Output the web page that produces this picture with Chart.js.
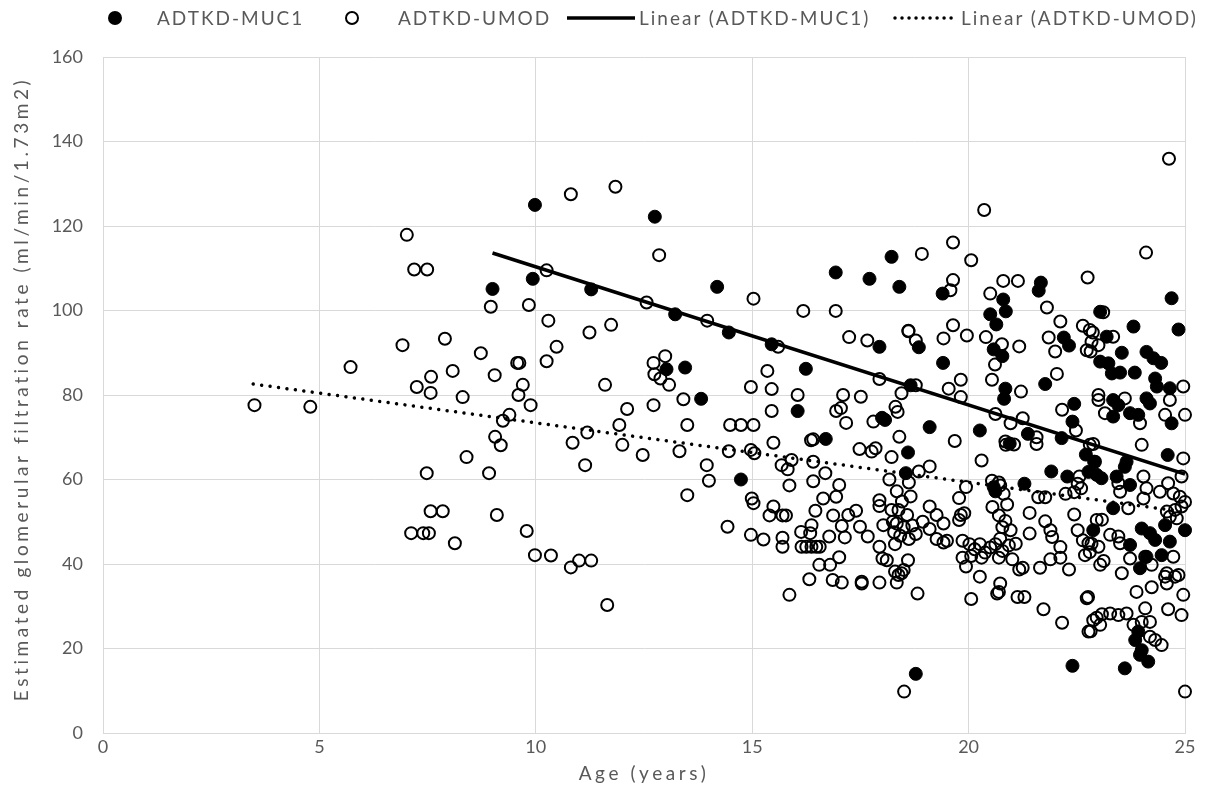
<!DOCTYPE html>
<html>
<head>
<meta charset="utf-8">
<title>eGFR by age, ADTKD-MUC1 vs ADTKD-UMOD</title>
<script src="https://cdn.jsdelivr.net/npm/chart.js@4.4.1/dist/chart.umd.min.js"></script>
<style>
  body { margin: 0; background: #fff; }
  #wrap { position: relative; width: 1216px; height: 802px; }
  #legend { position: absolute; left: 0; top: 0; width: 1216px; height: 40px; color: #595959;
            font-family: Lato, sans-serif; font-size: 19px; letter-spacing: 2px; }
  #legend .txt { position: absolute; top: 7px; line-height: 22px; white-space: nowrap; }
  #legend svg { position: absolute; }
</style>
</head>
<body>
<div id="wrap">
  <canvas id="chart" width="1216" height="802"></canvas>
  <div id="legend">
    <svg style="left:107px;top:10px" width="16" height="16"><circle cx="8" cy="8" r="7" fill="#000"/></svg>
    <span class="txt" style="left:157px">ADTKD-MUC1</span>
    <svg style="left:344px;top:10px" width="16" height="16"><circle cx="8" cy="8" r="6" fill="none" stroke="#000" stroke-width="2"/></svg>
    <span class="txt" style="left:398px">ADTKD-UMOD</span>
    <svg style="left:567px;top:10px" width="68" height="16"><line x1="0" y1="8" x2="68" y2="8" stroke="#000" stroke-width="3.5"/></svg>
    <span class="txt" style="left:639px">Linear (ADTKD-MUC1)</span>
    <svg style="left:893px;top:10px" width="62" height="16"><line x1="2" y1="8" x2="60" y2="8" stroke="#000" stroke-width="3.5" stroke-linecap="round" stroke-dasharray="0.01 7"/></svg>
    <span class="txt" style="left:961px">Linear (ADTKD-UMOD)</span>
  </div>
</div>
<script>
// age (years), eGFR (ml/min/1.73m2)
const muc1Points = [
  [9.0,105.1],[9.93,107.5],[9.98,125.0],[11.28,105.0],[12.75,122.2],[13.22,99.1],[14.19,105.6],[14.46,94.8],
  [13.02,86.1],[13.45,86.5],[13.82,79.1],[14.74,60.0],
  [15.45,92.0],[16.24,86.2],[16.05,76.2],[16.7,69.6],[16.93,109.0],[17.71,107.5],[18.22,112.7],[18.4,105.6],
  [17.94,91.4],[18.0,74.6],[18.07,74.1],[18.6,66.4],[18.55,61.5],
  [19.4,104.0],[20.8,102.6],[20.5,99.1],[20.64,96.7],[20.86,99.8],[18.85,91.3],[19.41,87.6],[20.58,90.8],
  [20.78,89.2],[18.66,82.3],[20.85,81.5],[20.82,79.1],[19.1,72.4],[20.26,71.6],[20.58,58.2],[20.62,57.2],[18.78,14.0],
  [21.67,106.6],[21.62,104.7],[22.2,93.6],[22.32,91.7],[21.77,82.6],[22.44,77.9],[22.4,73.7],[21.37,70.8],
  [20.95,68.5],[22.15,69.8],[22.71,65.9],[22.9,64.2],[21.91,61.9],[22.28,60.7],[21.29,59.0],[22.4,15.9],
  [24.69,102.9],[23.04,99.7],[23.81,96.2],[24.85,95.5],[23.19,93.8],[23.54,90.0],[24.11,90.2],[24.27,88.7],
  [24.45,87.6],[23.04,87.9],[23.23,87.5],[23.31,85.1],[23.5,85.3],[23.84,85.3],[24.31,83.9],[24.35,82.0],
  [24.65,81.6],[24.11,79.2],[24.19,78.0],[23.34,78.8],[23.46,77.6],[23.34,74.9],[23.73,75.7],[23.92,75.3],[24.69,73.3],
  [24.6,65.8],[23.65,64.2],[23.61,63.0],[22.77,61.8],[22.96,61.1],[23.07,60.3],[23.42,60.7],[23.73,58.7],
  [23.34,53.2],[22.88,48.0],[24.0,48.4],[24.19,47.3],[24.31,45.7],[24.54,49.2],[25.0,48.0],[24.65,45.3],
  [23.73,44.5],[24.11,41.7],[23.96,39.0],[24.46,42.1],
  [23.92,24.0],[23.85,22.0],[24.0,19.6],[23.96,18.5],[24.15,16.9],[23.61,15.3]
];

const umodPoints = [
  [3.5,77.6],[4.79,77.2],[5.72,86.6],[6.92,91.8],[7.02,117.9],[7.19,109.7],[7.49,109.7],[7.9,93.3],
  [8.73,89.9],[8.96,100.9],[9.84,101.3],[10.25,109.5],[10.29,97.6],[9.57,87.6],[9.62,87.6],[10.25,88.0],
  [7.58,84.3],[8.08,85.7],[9.05,84.7],[7.25,81.9],[7.57,80.5],[8.31,79.5],[9.7,82.4],[9.6,80.0],
  [9.88,77.6],[9.39,75.3],[9.24,73.9],[9.06,70.1],[9.19,68.1],[8.4,65.3],[7.48,61.5],[8.92,61.5],
  [7.57,52.5],[7.85,52.5],[9.1,51.6],[7.12,47.3],[7.4,47.3],[7.53,47.3],[8.13,44.9],[9.79,47.8],[9.98,42.1],[10.35,42.0],
  [10.81,127.5],[11.84,129.3],[12.85,113.1],[12.56,101.9],[13.96,97.6],[15.03,102.8],[11.24,94.8],[11.74,96.6],
  [10.48,91.4],[12.72,87.6],[12.99,89.2],[12.74,84.9],[12.88,83.9],[13.08,82.4],[11.6,82.4],[14.97,81.9],
  [13.41,79.0],[12.72,77.6],[12.11,76.7],[11.93,72.9],[11.19,71.1],[10.85,68.7],[12.0,68.2],[12.47,65.8],
  [13.32,66.7],[13.5,72.9],[11.14,63.4],[14.49,72.9],[14.74,72.9],[15.03,72.9],[14.46,66.7],[14.97,67.0],
  [13.95,63.4],[14.0,59.7],[13.5,56.3],[14.99,55.5],[15.03,54.4],[14.43,48.8],[14.97,46.9],[10.81,39.2],
  [11.0,40.8],[11.28,40.8],[11.65,30.3],
  [16.18,99.9],[16.93,99.9],[17.24,93.7],[17.66,92.9],[18.61,95.2],[15.6,91.4],[15.35,85.7],[15.45,81.4],
  [16.05,80.0],[17.1,80.0],[17.51,79.6],[17.94,83.8],[18.45,80.4],[15.45,76.2],[16.94,76.2],[17.05,76.9],
  [17.17,73.4],[17.8,73.7],[18.31,77.2],[18.36,76.0],[18.4,70.1],[15.05,66.2],[15.49,68.7],[15.68,63.4],
  [15.82,62.4],[15.91,64.6],[15.86,58.6],[16.36,69.3],[16.41,69.5],[16.41,64.2],[16.41,59.6],[16.69,61.5],
  [17.48,67.2],[17.76,66.6],[17.85,67.4],[18.22,65.3],[18.17,60.0],[17.01,58.7],[16.94,55.9],[16.64,55.5],
  [15.49,53.6],[15.4,51.5],[15.7,51.5],[15.78,51.5],[16.46,52.6],[16.87,51.5],[17.22,51.6],[17.4,52.6],
  [17.07,49.0],[17.49,48.8],[17.67,46.5],[17.94,55.1],[17.94,53.7],[18.03,49.2],[15.26,45.8],[15.7,46.2],
  [15.7,44.1],[16.13,47.6],[16.34,47.3],[16.37,49.2],[16.14,44.1],[16.25,44.1],[16.37,44.1],[16.48,44.1],
  [16.56,44.1],[16.78,46.5],[17.14,46.3],[16.8,39.8],[17.01,41.6],[16.55,39.8],[16.32,36.4],[16.86,36.2],
  [17.07,35.6],[17.53,35.8],[17.53,35.4],[17.94,35.6],[15.86,32.7],[17.94,44.1],[18.01,41.3],[18.11,40.9],
  [18.34,35.6],[18.45,37.8],[18.5,38.6],[18.51,9.8],[18.6,40.9],[18.25,50.0],[18.28,47.5],[18.22,52.8],
  [20.36,123.8],[19.64,116.1],[18.92,113.4],[20.06,111.9],[20.8,107.0],[19.64,107.2],[19.58,104.8],[20.5,104.0],
  [18.61,95.1],[18.78,92.9],[19.42,93.4],[19.64,96.5],[19.96,94.1],[20.4,93.7],[20.61,87.2],[18.78,82.3],
  [19.82,83.6],[19.54,81.5],[19.82,79.5],[20.54,83.6],[20.62,75.5],[19.68,69.1],[20.85,69.0],[20.86,68.2],
  [20.3,64.5],[19.1,63.1],[18.85,61.9],[18.62,59.3],[19.94,58.2],[19.78,55.6],[20.54,59.7],[20.7,59.3],
  [18.34,57.2],[18.46,54.8],[18.66,56.0],[18.38,52.8],[18.58,51.6],[18.34,49.6],[18.5,48.7],[18.7,49.1],
  [18.42,46.7],[18.62,45.9],[18.78,47.1],[18.3,44.7],
  [19.1,53.6],[18.94,50.0],[19.1,48.3],[19.26,51.6],[19.42,49.6],[19.26,45.9],[19.42,45.1],[19.5,45.5],
  [19.82,51.6],[19.78,50.4],[19.9,52.0],
  [19.86,45.5],[20.02,44.7],[20.14,43.5],[20.26,44.7],[20.38,42.7],[20.5,43.9],[20.62,44.7],[20.78,43.1],
  [20.7,41.5],[20.06,41.9],[20.3,41.5],[19.86,41.5],[19.94,39.4],[20.26,37.0],[18.3,38.2],[18.38,37.4],
  [18.82,33.0],[20.06,31.7],[20.7,33.4],[20.66,33.0],[20.55,53.5],[20.7,51.5],[20.85,50.2],[20.78,48.7],
  [21.14,107.0],[22.75,107.8],[21.81,100.7],[20.77,92.0],[21.17,91.5],[22.12,97.4],[22.64,96.4],[22.87,94.8],
  [21.85,93.6],[22.0,90.3],[22.82,90.3],[22.04,85.0],[21.21,80.8],[22.16,76.5],[20.97,73.3],[21.25,74.5],
  [21.57,70.0],[21.57,68.4],[22.48,71.6],[21.05,68.3],[22.88,68.4],[21.61,55.8],[21.77,55.8],[22.24,56.6],
  [22.44,57.0],[22.6,57.9],[22.56,60.7],[22.52,59.0],
  [20.73,58.6],[20.81,56.6],[20.89,54.1],[20.97,48.0],[20.73,46.0],[20.93,44.4],
  [21.41,52.1],[21.77,50.1],[21.89,48.0],[21.93,46.4],[22.12,44.0],[21.41,47.2],[21.09,44.8],[22.44,51.7],
  [22.52,48.0],[22.64,45.6],[22.84,44.8],[23.08,50.5],[22.8,42.8],
  [21.01,41.1],[21.17,38.7],[21.25,39.1],[21.65,39.1],[21.89,41.1],[22.12,41.5],[22.32,38.7],[23.12,40.7],
  [20.73,35.4],[21.13,32.2],[21.29,32.2],[21.73,29.3],[22.16,26.1],[22.76,32.2],[22.96,27.3],[22.82,24.1],[23.08,28.1],
  [24.63,135.9],[24.1,113.7],
  [23.11,99.6],[22.8,95.4],[22.84,92.6],[23.0,91.8],[22.73,90.6],[23.34,93.8],[24.96,82.0],[23.0,80.0],
  [23.0,78.8],[23.61,79.2],[23.15,75.7],[23.96,73.3],[24.54,75.3],[25.0,75.3],[24.65,78.8],
  [22.8,68.2],[22.92,64.2],[24.0,68.2],[24.96,65.0],[24.92,60.7],[24.04,60.7],[24.11,57.9],[24.04,55.5],
  [23.5,57.1],[23.46,59.1],[23.69,53.2],[24.42,57.1],[24.61,59.1],[24.73,56.7],[24.88,55.9],[25.0,54.7],
  [24.58,52.4],[24.77,52.8],[24.92,53.6],[24.65,51.2],[24.81,50.8],[22.96,50.4],[23.27,46.9],[23.46,46.5],
  [23.5,44.9],[22.77,44.9],[23.0,44.1],[23.73,41.3],[24.08,41.7],[24.73,41.7],[23.04,39.8],[23.54,37.8],
  [24.58,37.8],[24.85,37.4],[24.23,39.8],[22.69,42.1],
  [24.54,37.0],[24.77,37.0],[24.58,35.4],[23.88,33.4],[24.23,34.5],[24.96,32.7],[22.73,31.9],[24.61,29.3],
  [24.92,27.9],[24.08,29.5],[23.27,28.3],[23.46,27.9],[23.65,28.3],[22.88,26.7],[23.04,25.6],[22.77,24.0],
  [23.81,25.6],[24.0,26.3],[24.19,26.3],[24.19,22.8],[24.46,20.8],[24.31,22.0],[25.0,9.8]
];

// trendline end points as drawn in the picture
const muc1Trend = [[9.0,113.6],[25.0,61.3]];
const umodTrend = [[3.47,82.6],[25.0,52.3]];

const xTicks = [0, 5, 10, 15, 20, 25];
const yTicks = [0, 20, 40, 60, 80, 100, 120, 140, 160];
const xTitle = 'Age (years)';
const yTitle = 'Estimated glomerular filtration rate (ml/min/1.73m2)';

const toXY = pts => pts.map(p => ({x: p[0], y: p[1]}));
const grey = '#595959';
const tickFont = {family: 'Lato', size: 18};

// axis titles drawn with letter spacing, like the original export
const axisTitles = {
  id: 'axisTitles',
  afterDraw(chart) {
    const c = chart.ctx, a = chart.chartArea;
    c.save();
    c.fillStyle = grey;
    c.font = '19px Lato';
    c.letterSpacing = '3.6px';
    c.textAlign = 'center';
    c.textBaseline = 'middle';
    c.fillText(xTitle, (a.left + a.right) / 2, 774);
    c.translate(22, (a.top + a.bottom) / 2 - 6);
    c.rotate(-Math.PI / 2);
    c.fillText(yTitle, 0, 0);
    c.restore();
  }
};

new Chart(document.querySelector('#chart').getContext('2d'), {
  type: 'scatter',
  data: {
    datasets: [
      {
        label: 'Linear (ADTKD-MUC1)', type: 'line', data: toXY(muc1Trend),
        borderColor: '#000', borderWidth: 3.5, pointRadius: 0, fill: false, order: 0
      },
      {
        label: 'Linear (ADTKD-UMOD)', type: 'line', data: toXY(umodTrend),
        borderColor: '#000', borderWidth: 3.5, borderDash: [0.01, 8.5], borderCapStyle: 'round',
        pointRadius: 0, fill: false, order: 0
      },
      {
        label: 'ADTKD-UMOD', data: toXY(umodPoints),
        pointRadius: 6, pointBorderWidth: 2, pointBackgroundColor: 'rgba(0,0,0,0)', pointBorderColor: '#000',
        order: 1, clip: false
      },
      {
        label: 'ADTKD-MUC1', data: toXY(muc1Points),
        pointRadius: 6.5, pointBorderWidth: 1, pointBackgroundColor: '#000', pointBorderColor: '#000',
        order: 2, clip: false
      }
    ]
  },
  options: {
    responsive: false,
    animation: false,
    layout: {padding: {top: 57, right: 31, left: 0, bottom: 0}},
    plugins: {legend: {display: false}, tooltip: {enabled: false}},
    scales: {
      x: {
        type: 'linear', min: xTicks[0], max: xTicks[xTicks.length - 1],
        afterBuildTicks: s => { s.ticks = xTicks.map(v => ({value: v})); },
        ticks: {color: grey, font: tickFont, padding: 3},
        grid: {color: '#d9d9d9', drawTicks: false},
        border: {color: '#d9d9d9'},
        afterFit: s => { s.height = 69; }
      },
      y: {
        min: yTicks[0], max: yTicks[yTicks.length - 1],
        afterBuildTicks: s => { s.ticks = yTicks.map(v => ({value: v})); },
        ticks: {color: grey, font: tickFont, padding: 20},
        grid: {color: '#d9d9d9', drawTicks: false},
        border: {color: '#d9d9d9'},
        afterFit: s => { s.width = 103; }
      }
    }
  },
  plugins: [axisTitles]
});
</script>
</body>
</html>
